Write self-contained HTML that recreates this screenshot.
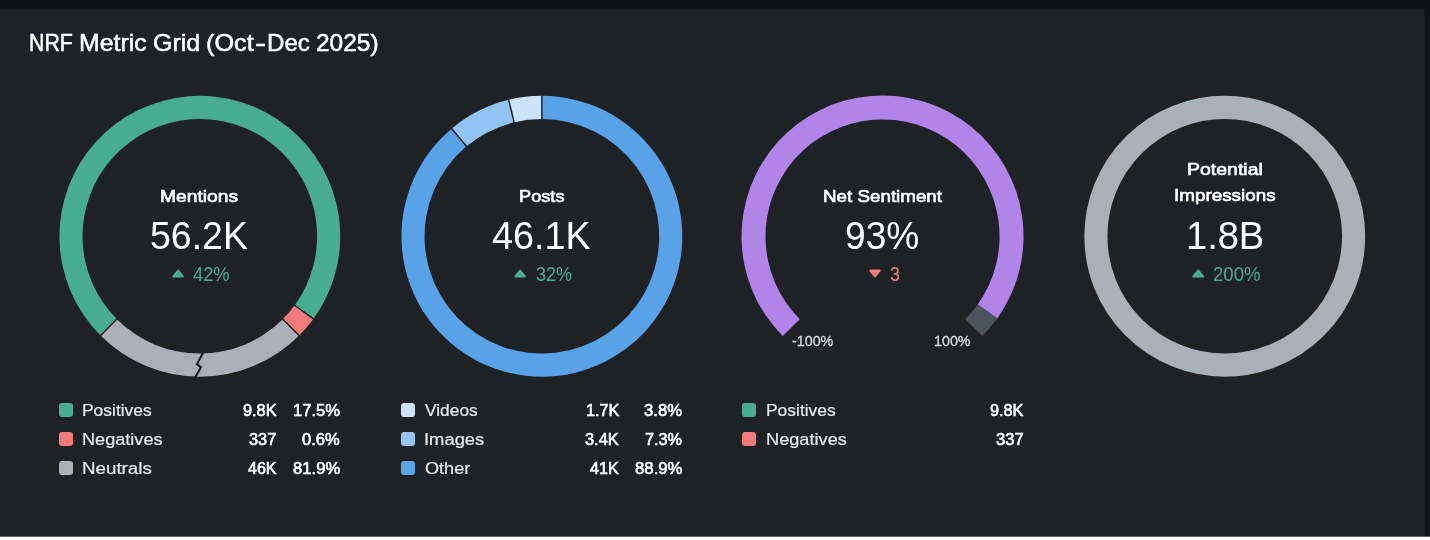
<!DOCTYPE html>
<html lang="en"><head><meta charset="utf-8"><title>NRF Metric Grid (Oct-Dec 2025)</title>
<style>
html,body{margin:0;padding:0;background:#fff;}
body{width:1430px;height:540px;position:relative;overflow:hidden;font-family:"Liberation Sans", sans-serif;}
svg.c{position:absolute;left:0;top:0;}
h1,main,section,ul,li{margin:0;padding:0;font:inherit;list-style:none;position:static;display:block;}
.t{position:absolute;white-space:nowrap;transform-origin:0 0;margin:0;}
.t i{display:inline-block;width:0;height:0;}
.sq{position:absolute;width:14.6px;height:14.6px;border-radius:3px;}
.tri{position:absolute;}
</style></head><body>
<svg class="c" width="1430" height="540" viewBox="0 0 1430 540">
<rect x="0" y="0" width="1430" height="538" fill="#0f1215"/>
<rect x="-4" y="8.4" width="1428.6" height="534" rx="2.5" fill="#1f2225"/>
<rect x="0" y="536.7" width="1430" height="4" fill="#fff"/>
<path d="M100.54 335.55A140.4 140.4 0 1 1 313.33 318.89L294.66 305.30A117.3 117.3 0 1 0 116.88 319.21Z" fill="#48ad8d"/>
<path d="M313.33 318.89A140.4 140.4 0 0 1 299.10 335.55L282.76 319.21A117.3 117.3 0 0 0 294.66 305.30Z" fill="#f07b7a"/>
<path d="M299.10 335.55A140.4 140.4 0 0 1 100.54 335.55L116.88 319.21A117.3 117.3 0 0 0 282.76 319.21Z" fill="#aab0b8"/>
<path d="M100.19 335.90L117.23 318.86" stroke="#16191c" stroke-width="1.4" fill="none"/>
<path d="M313.74 319.19L294.25 305.01" stroke="#16191c" stroke-width="1.4" fill="none"/>
<path d="M299.45 335.90L282.41 318.86" stroke="#16191c" stroke-width="1.4" fill="none"/>
<path d="M203.2 352.6L197.0 364.1L200.9 367.2L195.0 377.8" fill="none" stroke="#16191c" stroke-width="2.1"/>
<path d="M541.87 95.87A140.4 140.4 0 1 1 451.70 128.65L466.53 146.36A117.3 117.3 0 1 0 541.87 118.97Z" fill="#58a2e8"/>
<path d="M451.70 128.65A140.4 140.4 0 0 1 508.67 99.85L514.13 122.30A117.3 117.3 0 0 0 466.53 146.36Z" fill="#92c4f3"/>
<path d="M508.67 99.85A140.4 140.4 0 0 1 541.87 95.87L541.87 118.97A117.3 117.3 0 0 0 514.13 122.30Z" fill="#cde3fa"/>
<path d="M541.87 95.37L541.87 119.47" stroke="#16191c" stroke-width="1.4" fill="none"/>
<path d="M451.38 128.27L466.85 146.74" stroke="#16191c" stroke-width="1.4" fill="none"/>
<path d="M508.55 99.37L514.25 122.78" stroke="#16191c" stroke-width="1.4" fill="none"/>
<path d="M782.82 336.10A141.0 141.0 0 1 1 997.24 318.38L977.71 304.43A117.0 117.0 0 1 0 799.79 319.13Z" fill="#b084e8"/>
<path d="M997.24 318.38A141.0 141.0 0 0 1 982.22 336.10L965.25 319.13A117.0 117.0 0 0 0 977.71 304.43Z" fill="#4a545b"/>
<circle cx="1224.75" cy="236.27" r="128.85" fill="none" stroke="#aab0b8" stroke-width="23.10"/>
</svg>
<h1>
<span class="t" style="left:28.83px;top:28.41px;font-size:23.9px;line-height:29px;color:#fff;transform:scaleX(0.8936);-webkit-text-stroke:0.5px #fff;">NRF</span>
<span class="t" style="left:78.62px;top:28.41px;font-size:23.9px;line-height:29px;color:#fff;transform:scaleX(1.0404);-webkit-text-stroke:0.5px #fff;">Metric</span>
<span class="t" style="left:152.81px;top:28.41px;font-size:23.9px;line-height:29px;color:#fff;transform:scaleX(1.0474);-webkit-text-stroke:0.5px #fff;">Grid</span>
<span class="t" style="left:205.51px;top:28.41px;font-size:23.9px;line-height:29px;color:#fff;transform:scaleX(1.0559);-webkit-text-stroke:0.5px #fff;">(Oct</span><span class="t" style="left:254.85px;top:28.41px;font-size:23.9px;line-height:29px;color:#fff;transform:scaleX(1.4000);-webkit-text-stroke:0.5px #fff;">-</span><span class="t" style="left:267.34px;top:28.41px;font-size:23.9px;line-height:29px;color:#fff;transform:scaleX(1.0086);-webkit-text-stroke:0.5px #fff;">Dec</span>
<span class="t" style="left:316.43px;top:28.41px;font-size:23.9px;line-height:29px;color:#fff;transform:scaleX(1.0244);-webkit-text-stroke:0.5px #fff;">2025)</span>
</h1>
<main>
<section class="metric">
<span class="t" style="left:160.34px;top:185.71px;font-size:17.2px;line-height:21px;color:#fff;transform:scaleX(1.1207);-webkit-text-stroke:0.65px #fff;">Mentions</span>
<span class="t" style="left:150.13px;top:213.41px;font-size:38.7px;line-height:46px;color:#fff;transform:scaleX(0.9681);">56.2K</span>
<svg class="tri" style="left:171.90px;top:269.3px" width="12.10" height="9" viewBox="0 0 12 9" preserveAspectRatio="none"><path d="M6 1.6L10.6 7.4H1.4Z" fill="#48ad8d" stroke="#48ad8d" stroke-width="2.2" stroke-linejoin="round"/></svg>
<span class="t" style="left:193.05px;top:262.00px;font-size:20.2px;line-height:24px;color:#48ad8d;transform:scaleX(0.9060);">42%</span>
<ul>
<li><span class="sq" style="left:58.7px;top:402.70px;background:#48ad8d"></span><span class="t" style="left:82.37px;top:401.30px;font-size:16.9px;line-height:20px;color:#e8eaec;transform:scaleX(1.0310);-webkit-text-stroke:0.2px #e8eaec;">Positives</span> <span class="t" style="left:243.29px;top:401.30px;font-size:16.9px;line-height:20px;color:#fff;transform:scaleX(0.9645);-webkit-text-stroke:0.6px #fff;">9.8K</span> <span class="t" style="left:293.11px;top:401.30px;font-size:16.9px;line-height:20px;color:#fff;transform:scaleX(0.9795);-webkit-text-stroke:0.6px #fff;">17.5%</span></li>
<li><span class="sq" style="left:58.7px;top:431.90px;background:#f07b7a"></span><span class="t" style="left:82.33px;top:430.11px;font-size:16.9px;line-height:20px;color:#e8eaec;transform:scaleX(1.0722);-webkit-text-stroke:0.2px #e8eaec;">Negatives</span> <span class="t" style="left:249.49px;top:430.11px;font-size:16.9px;line-height:20px;color:#fff;transform:scaleX(0.9687);-webkit-text-stroke:0.6px #fff;">337</span> <span class="t" style="left:302.29px;top:430.11px;font-size:16.9px;line-height:20px;color:#fff;transform:scaleX(0.9800);-webkit-text-stroke:0.6px #fff;">0.6%</span></li>
<li><span class="sq" style="left:58.7px;top:460.85px;background:#aab0b8"></span><span class="t" style="left:82.30px;top:458.91px;font-size:16.9px;line-height:20px;color:#e8eaec;transform:scaleX(1.1095);-webkit-text-stroke:0.2px #e8eaec;">Neutrals</span> <span class="t" style="left:248.28px;top:458.91px;font-size:16.9px;line-height:20px;color:#fff;transform:scaleX(0.9494);-webkit-text-stroke:0.6px #fff;">46K</span> <span class="t" style="left:292.80px;top:458.91px;font-size:16.9px;line-height:20px;color:#fff;transform:scaleX(0.9861);-webkit-text-stroke:0.6px #fff;">81.9%</span></li>
</ul>
</section>
<section class="metric">
<span class="t" style="left:518.59px;top:185.71px;font-size:17.2px;line-height:21px;color:#fff;transform:scaleX(1.0585);-webkit-text-stroke:0.65px #fff;">Posts</span>
<span class="t" style="left:491.60px;top:213.41px;font-size:38.7px;line-height:46px;color:#fff;transform:scaleX(0.9753);">46.1K</span>
<svg class="tri" style="left:514.00px;top:269.3px" width="12.20" height="9" viewBox="0 0 12 9" preserveAspectRatio="none"><path d="M6 1.6L10.6 7.4H1.4Z" fill="#48ad8d" stroke="#48ad8d" stroke-width="2.2" stroke-linejoin="round"/></svg>
<span class="t" style="left:535.60px;top:262.00px;font-size:20.2px;line-height:24px;color:#48ad8d;transform:scaleX(0.8899);">32%</span>
<ul>
<li><span class="sq" style="left:400.7px;top:402.70px;background:#cde3fa"></span><span class="t" style="left:424.60px;top:401.30px;font-size:16.9px;line-height:20px;color:#e8eaec;transform:scaleX(1.0275);-webkit-text-stroke:0.2px #e8eaec;">Videos</span> <span class="t" style="left:585.53px;top:401.30px;font-size:16.9px;line-height:20px;color:#fff;transform:scaleX(0.9578);-webkit-text-stroke:0.6px #fff;">1.7K</span> <span class="t" style="left:644.00px;top:401.30px;font-size:16.9px;line-height:20px;color:#fff;transform:scaleX(0.9877);-webkit-text-stroke:0.6px #fff;">3.8%</span></li>
<li><span class="sq" style="left:400.7px;top:431.90px;background:#92c4f3"></span><span class="t" style="left:423.82px;top:430.11px;font-size:16.9px;line-height:20px;color:#e8eaec;transform:scaleX(1.0878);-webkit-text-stroke:0.2px #e8eaec;">Images</span> <span class="t" style="left:585.09px;top:430.11px;font-size:16.9px;line-height:20px;color:#fff;transform:scaleX(0.9701);-webkit-text-stroke:0.6px #fff;">3.4K</span> <span class="t" style="left:645.09px;top:430.11px;font-size:16.9px;line-height:20px;color:#fff;transform:scaleX(0.9596);-webkit-text-stroke:0.6px #fff;">7.3%</span></li>
<li><span class="sq" style="left:400.7px;top:460.85px;background:#58a2e8"></span><span class="t" style="left:424.91px;top:458.91px;font-size:16.9px;line-height:20px;color:#e8eaec;transform:scaleX(1.0720);-webkit-text-stroke:0.2px #e8eaec;">Other</span> <span class="t" style="left:590.09px;top:458.91px;font-size:16.9px;line-height:20px;color:#fff;transform:scaleX(0.9558);-webkit-text-stroke:0.6px #fff;">41K</span> <span class="t" style="left:634.50px;top:458.91px;font-size:16.9px;line-height:20px;color:#fff;transform:scaleX(0.9923);-webkit-text-stroke:0.6px #fff;">88.9%</span></li>
</ul>
</section>
<section class="metric">
<span class="t" style="left:822.96px;top:185.71px;font-size:17.2px;line-height:21px;color:#fff;transform:scaleX(1.0930);-webkit-text-stroke:0.65px #fff;">Net Sentiment</span>
<span class="t" style="left:845.34px;top:213.41px;font-size:38.7px;line-height:46px;color:#fff;transform:scaleX(0.9588);">93%</span>
<svg class="tri" style="left:869.40px;top:269.3px" width="12.00" height="9" viewBox="0 0 12 9" preserveAspectRatio="none"><path d="M6 7.4L10.6 1.6H1.4Z" fill="#f07b7a" stroke="#f07b7a" stroke-width="2.2" stroke-linejoin="round"/></svg>
<span class="t" style="left:890.30px;top:262.00px;font-size:20.2px;line-height:24px;color:#f07b7a;transform:scaleX(0.8818);">3</span>
<span class="t" style="left:792.14px;top:332.31px;font-size:15px;line-height:18px;color:#dcdddf;transform:scaleX(0.9533);-webkit-text-stroke:0.3px #dcdddf;">-100%</span>
<span class="t" style="left:934.09px;top:332.31px;font-size:15px;line-height:18px;color:#dcdddf;transform:scaleX(0.9537);-webkit-text-stroke:0.3px #dcdddf;">100%</span>
<ul>
<li><span class="sq" style="left:741.5px;top:402.70px;background:#48ad8d"></span><span class="t" style="left:765.87px;top:401.30px;font-size:16.9px;line-height:20px;color:#e8eaec;transform:scaleX(1.0310);-webkit-text-stroke:0.2px #e8eaec;">Positives</span> <span class="t" style="left:989.59px;top:401.30px;font-size:16.9px;line-height:20px;color:#fff;transform:scaleX(0.9617);-webkit-text-stroke:0.6px #fff;">9.8K</span></li>
<li><span class="sq" style="left:741.5px;top:431.90px;background:#f07b7a"></span><span class="t" style="left:765.83px;top:430.11px;font-size:16.9px;line-height:20px;color:#e8eaec;transform:scaleX(1.0763);-webkit-text-stroke:0.2px #e8eaec;">Negatives</span> <span class="t" style="left:995.59px;top:430.11px;font-size:16.9px;line-height:20px;color:#fff;transform:scaleX(0.9828);-webkit-text-stroke:0.6px #fff;">337</span></li>
</ul>
</section>
<section class="metric">
<span class="t" style="left:1186.73px;top:159.01px;font-size:17.2px;line-height:21px;color:#fff;transform:scaleX(1.1336);-webkit-text-stroke:0.65px #fff;">Potential</span>
<span class="t" style="left:1173.66px;top:185.41px;font-size:17.2px;line-height:21px;color:#fff;transform:scaleX(1.0970);-webkit-text-stroke:0.65px #fff;">Impressions</span>
<span class="t" style="left:1186.33px;top:213.41px;font-size:38.7px;line-height:46px;color:#fff;transform:scaleX(0.9831);">1.8B</span>
<svg class="tri" style="left:1192.00px;top:269.3px" width="12.40" height="9" viewBox="0 0 12 9" preserveAspectRatio="none"><path d="M6 1.6L10.6 7.4H1.4Z" fill="#48ad8d" stroke="#48ad8d" stroke-width="2.2" stroke-linejoin="round"/></svg>
<span class="t" style="left:1212.98px;top:262.00px;font-size:20.2px;line-height:24px;color:#48ad8d;transform:scaleX(0.9195);">200%</span>
</section>
</main>
</body></html>
